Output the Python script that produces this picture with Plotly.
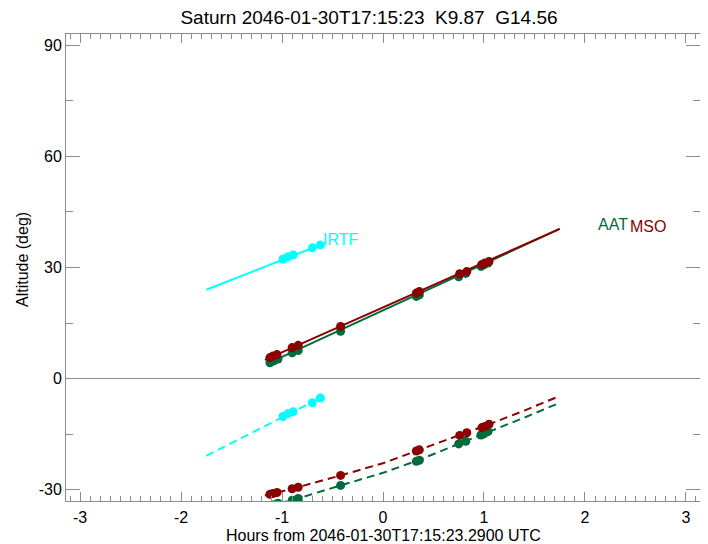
import plotly.graph_objects as go

# ---------------- data ----------------
title_text = "Saturn 2046-01-30T17:15:23\u00a0\u00a0K9.87\u00a0\u00a0G14.56"
x_title = "Hours from 2046-01-30T17:15:23.2900 UTC"
y_title = "Altitude (deg)"

x_ticks = [-3, -2, -1, 0, 1, 2, 3]
x_tick_labels = ["-3", "-2", "-1", "0", "1", "2", "3"]
y_ticks = [-30, 0, 30, 60, 90]
y_tick_labels = ["-30", "0", "30", "60", "90"]

# IRTF (cyan)
irtf_line_hours = [-1.75, -0.62]
irtf_line_alt = [24.0, 36.1]
irtf_dash_alt = [-20.8, -5.2]
irtf_obs_hours = [-0.99, -0.94, -0.89, -0.70, -0.62]
irtf_obs_alt = [32.3, 32.9, 33.4, 35.3, 36.1]
irtf_obs_dash = [-10.2, -9.4, -8.9, -6.5, -5.2]

# AAT (green)
aat_line_hours = [-1.15, 1.75]
aat_line_alt = [4.0, 40.4]
aat_dash_hours = [-1.15, -0.84, -0.42, 0.0, 0.34, 0.76, 1.05, 1.40, 1.75]
aat_dash_alt = [-34.5, -32.3, -28.8, -25.4, -22.1, -17.6, -14.3, -10.5, -6.5]
aat_obs_hours = [-1.12, -1.08, -1.04, -0.90, -0.84, -0.42, 0.33, 0.36, 0.75, 0.82, 0.97, 1.00, 1.04]
aat_obs_alt = [4.3, 4.8, 5.3, 7.0, 7.6, 12.8, 22.2, 22.6, 27.5, 28.4, 30.3, 30.7, 31.2]
aat_obs_dash = [-34.3, -34.0, -33.6, -32.8, -32.3, -28.8, -22.3, -22.0, -17.6, -16.9, -15.2, -14.9, -14.3]

# MSO (dark red)
mso_line_hours = [-1.17, 1.75]
mso_line_alt = [5.1, 40.4]
mso_dash_hours = [-1.17, -0.90, -0.42, 0.0, 0.34, 0.76, 1.06, 1.40, 1.73]
mso_dash_alt = [-31.5, -29.7, -26.1, -22.8, -19.4, -15.3, -12.2, -8.6, -4.9]
mso_obs_hours = [-1.12, -1.09, -1.05, -0.90, -0.84, -0.42, 0.33, 0.36, 0.76, 0.83, 0.98, 1.01, 1.05]
mso_obs_alt = [5.7, 6.1, 6.5, 8.4, 9.0, 14.1, 23.1, 23.5, 28.3, 28.9, 30.8, 31.2, 31.6]
mso_obs_dash = [-31.2, -31.0, -30.7, -29.7, -29.3, -26.1, -19.5, -19.2, -15.3, -14.6, -13.2, -12.9, -12.3]

CYAN = "#00FFFF"
GREEN = "#006B3C"
RED = "#8B0000"
GRAY = "#8c8c8c"
FONT = "Liberation Sans, Arial, Helvetica, sans-serif"

fig = go.Figure()

def add_site(hl, al, hd, ad, oh, oa, od, color, mk=9):
    fig.add_trace(go.Scatter(x=hl, y=al, mode="lines",
                             line=dict(color=color, width=2), showlegend=False))
    fig.add_trace(go.Scatter(x=hd, y=ad, mode="lines",
                             line=dict(color=color, width=2, dash="8px,5px"),
                             showlegend=False))
    fig.add_trace(go.Scatter(x=oh, y=oa, mode="markers",
                             marker=dict(color=color, size=mk), showlegend=False))
    fig.add_trace(go.Scatter(x=oh, y=od, mode="markers",
                             marker=dict(color=color, size=mk), showlegend=False))

add_site(irtf_line_hours, irtf_line_alt, irtf_line_hours, irtf_dash_alt,
         irtf_obs_hours, irtf_obs_alt, irtf_obs_dash, CYAN)
add_site(aat_line_hours, aat_line_alt, aat_dash_hours, aat_dash_alt,
         aat_obs_hours, aat_obs_alt, aat_obs_dash, GREEN)
add_site(mso_line_hours, mso_line_alt, mso_dash_hours, mso_dash_alt,
         mso_obs_hours, mso_obs_alt, mso_obs_dash, RED)

# labels
fig.add_annotation(x=-0.61, y=37.5, text="IRTF", showarrow=False, xanchor="left",
                   yanchor="middle", font=dict(color=CYAN, size=16, family=FONT))
fig.add_annotation(x=2.11, y=41.5, text="AAT", showarrow=False, xanchor="left",
                   yanchor="middle", font=dict(color=GREEN, size=16, family=FONT))
fig.add_annotation(x=2.43, y=41.0, text="MSO", showarrow=False, xanchor="left",
                   yanchor="middle", font=dict(color=RED, size=16, family=FONT))

# axis titles as paper-anchored annotations
fig.add_annotation(xref="paper", yref="paper", x=0.5, y=-0.0745, text=x_title,
                   showarrow=False, xanchor="center", yanchor="middle",
                   font=dict(size=16, color="black", family=FONT))
fig.add_annotation(xref="paper", yref="paper", x=-0.0694, y=0.516, text=y_title,
                   showarrow=False, xanchor="center", yanchor="middle", textangle=-90,
                   font=dict(size=16, color="black", family=FONT))

axis_common = dict(showgrid=False, showline=True, linecolor=GRAY, linewidth=1,
                   mirror="ticks", ticks="inside", tickcolor=GRAY, automargin=False,
                   tickfont=dict(size=16, color="black", family=FONT))

fig.update_xaxes(range=[-3.14, 3.14], tickvals=x_ticks, ticktext=x_tick_labels, ticklen=9,
                 minor=dict(dtick=0.1, ticklen=5, ticks="inside", tickcolor=GRAY),
                 zeroline=False, ticklabelstandoff=2,
                 **axis_common)
fig.update_yaxes(range=[-33, 93], tickvals=y_ticks, ticktext=y_tick_labels, ticklen=14,
                 minor=dict(dtick=15, ticklen=7, ticks="inside", tickcolor=GRAY),
                 zeroline=True, zerolinecolor=GRAY, zerolinewidth=1,
                 ticklabelstandoff=0,
                 **axis_common)

# the page adds an 8px body margin, so margins are offset by 8px
fig.update_layout(
    width=708, height=544,
    margin=dict(l=58, r=16, t=26, b=51),
    plot_bgcolor="white", paper_bgcolor="white",
    title=dict(text=title_text, x=361/708, xref="container", xanchor="center",
               y=1 - 9/544, yref="container", yanchor="middle",
               font=dict(size=19, color="black", family=FONT)),
    font=dict(family=FONT),
)

fig.write_html("out.html")
